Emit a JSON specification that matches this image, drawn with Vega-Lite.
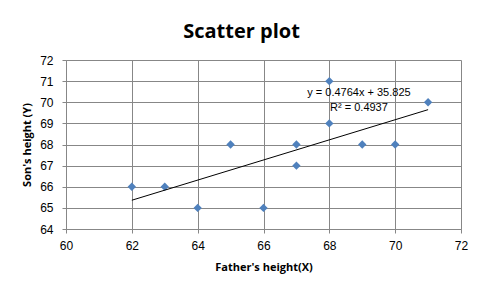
{
  "$schema": "https://vega.github.io/schema/vega-lite/v6.json",
  "autosize": "none",
  "width": 395,
  "height": 169,
  "padding": {"left": 66, "top": 60, "right": 25, "bottom": 70},
  "background": "white",
  "title": {"text": "Scatter plot", "font": "Open Sans", "fontSize": 20, "fontWeight": "bold", "color": "black", "anchor": "middle", "dx": -22, "offset": 12},
  "config": {"view": {"stroke": null}},
  "datasets": {
    "pts": [
      {"x": 62, "y": 66}, {"x": 63, "y": 66}, {"x": 64, "y": 65}, {"x": 65, "y": 68},
      {"x": 66, "y": 65}, {"x": 67, "y": 68}, {"x": 67, "y": 67}, {"x": 68, "y": 71},
      {"x": 68, "y": 69}, {"x": 69, "y": 68}, {"x": 70, "y": 68}, {"x": 71, "y": 70}
    ],
    "trend": [{"x": 62, "y": 65.362}, {"x": 71, "y": 69.649}],
    "notes": [
      {"x": 68.9, "y": 70.45, "t": "y = 0.4764x + 35.825"},
      {"x": 68.9, "y": 69.75, "t": "R² = 0.4937"}
    ]
  },
  "encoding": {
    "x": {"field": "x", "type": "quantitative", "scale": {"domain": [60, 72], "nice": false, "zero": false},
      "axis": {"values": [60, 62, 64, 66, 68, 70, 72], "title": "Father's height(X)", "titleFont": "Open Sans", "titleFontSize": 11, "titleFontWeight": "bold", "titleColor": "black", "titlePadding": 10,
        "labelFont": "Liberation Sans", "labelFontSize": 12, "labelColor": "black", "labelPadding": 7, "labelOverlap": false, "labelFlush": false,
        "grid": true, "gridColor": "#878787", "gridWidth": 1, "domainColor": "#878787", "tickColor": "#878787", "tickSize": 4}},
    "y": {"field": "y", "type": "quantitative", "scale": {"domain": [64, 72], "nice": false, "zero": false},
      "axis": {"values": [64, 65, 66, 67, 68, 69, 70, 71, 72], "title": "Son's height (Y)", "titleFont": "Open Sans", "titleFontSize": 11, "titleFontWeight": "bold", "titleColor": "black", "titlePadding": 7,
        "labelFont": "Liberation Sans", "labelFontSize": 12, "labelColor": "black", "labelPadding": 9, "labelOverlap": false, "labelFlush": false,
        "grid": true, "gridColor": "#878787", "gridWidth": 1, "domainColor": "#878787", "tickColor": "#878787", "tickSize": 4}}
  },
  "layer": [
    {
      "data": {"name": "pts"},
      "mark": {"type": "point", "shape": "diamond", "filled": true, "color": "#4F81BD", "size": 70, "opacity": 1}
    },
    {
      "data": {"name": "trend"},
      "mark": {"type": "line", "color": "black", "strokeWidth": 1}
    },
    {
      "data": {"name": "notes"},
      "mark": {"type": "text", "font": "Liberation Sans", "fontSize": 11, "color": "black", "align": "center", "baseline": "middle"},
      "encoding": {"text": {"field": "t"}}
    }
  ]
}
